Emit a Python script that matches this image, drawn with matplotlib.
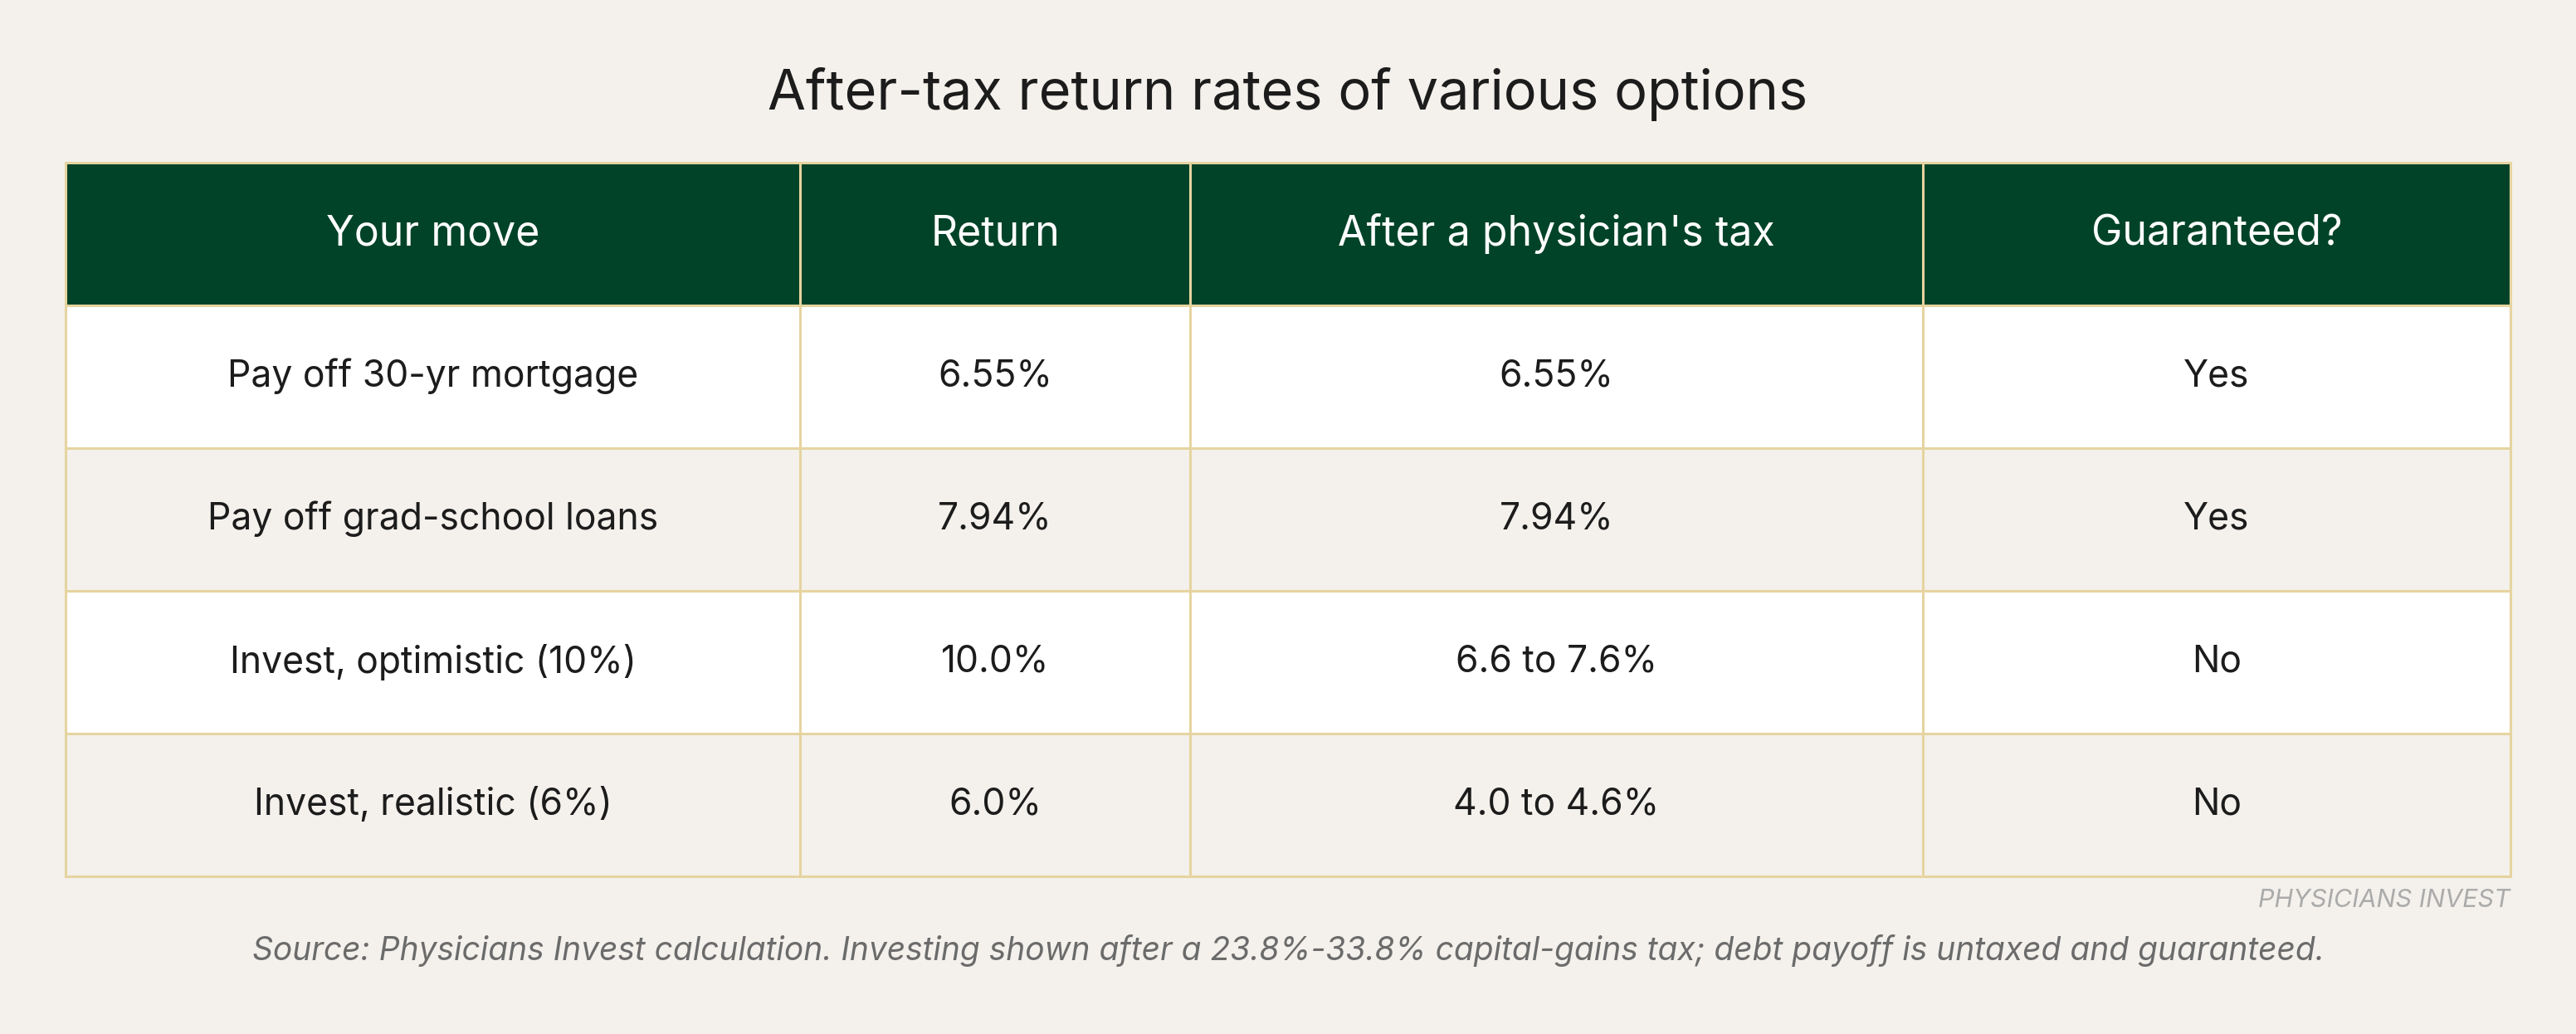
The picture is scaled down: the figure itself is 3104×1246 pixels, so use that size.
import matplotlib.pyplot as plt
from matplotlib.patches import Rectangle

# table contents
title = "After-tax return rates of various options"
columns = ["Your move", "Return", "After a physician's tax", "Guaranteed?"]
moves = ["Pay off 30-yr mortgage", "Pay off grad-school loans",
         "Invest, optimistic (10%)", "Invest, realistic (6%)"]
returns = ["6.55%", "7.94%", "10.0%", "6.0%"]
after_tax = ["6.55%", "7.94%", "6.6 to 7.6%", "4.0 to 4.6%"]
guaranteed = ["Yes", "Yes", "No", "No"]
source = ("Source: Physicians Invest calculation. Investing shown after a 23.8%-33.8% "
          "capital-gains tax; debt payoff is untaxed and guaranteed.")
brand = "PHYSICIANS INVEST"

BG = "#F4F1EC"
GREEN = "#004328"
BORDER = "#E6D4A0"
TEXT = "#1C1C1C"

plt.rcParams['font.family'] = ['Inter', 'DejaVu Sans']

W, H = 3104, 1246
fig = plt.figure(figsize=(W / 200, H / 200), dpi=200, facecolor=BG)
ax = fig.add_axes([0, 0, 1, 1])
ax.set_xlim(0, W)
ax.set_ylim(H, 0)
ax.axis('off')

col_edges = [79, 964, 1434, 2317, 3025]
top, row_h = 196, 172

rows = list(zip(moves, returns, after_tax, guaranteed))
n_rows = len(rows) + 1

# backgrounds
for r in range(n_rows):
    y0 = top + r * row_h
    if r == 0:
        fc = GREEN
    else:
        fc = "white" if r % 2 == 1 else BG
    ax.add_patch(Rectangle((col_edges[0], y0), col_edges[-1] - col_edges[0], row_h,
                           facecolor=fc, edgecolor='none', zorder=1))

# grid lines
bottom = top + n_rows * row_h
for x in col_edges:
    ax.plot([x, x], [top, bottom], color=BORDER, lw=1.1, zorder=2, solid_capstyle='projecting')
for r in range(n_rows + 1):
    y = top + r * row_h
    ax.plot([col_edges[0], col_edges[-1]], [y, y], color=BORDER, lw=1.1, zorder=2,
            solid_capstyle='projecting')

# header text
for c, label in enumerate(columns):
    xc = (col_edges[c] + col_edges[c + 1]) / 2
    ax.text(xc, top + row_h / 2 - 5, label, ha='center', va='center_baseline',
            color='white', fontsize=18, zorder=3)

# body text
for r, row in enumerate(rows):
    yc = top + (r + 1) * row_h + row_h / 2 - 5
    for c, val in enumerate(row):
        xc = (col_edges[c] + col_edges[c + 1]) / 2
        ax.text(xc, yc, val, ha='center', va='center_baseline', color=TEXT,
                fontsize=16, zorder=3)

ax.text(W / 2, 132, title, ha='center', va='baseline', color=TEXT, fontsize=24)
ax.text(col_edges[-1], 1093, brand, ha='right', va='baseline', color='#ABABAB',
        fontsize=11, style='italic')
ax.text(W / 2, 1157, source, ha='center', va='baseline', color='#6B6B6B',
        fontsize=14, style='italic')

fig.savefig("out.png", dpi=200, facecolor=BG)
